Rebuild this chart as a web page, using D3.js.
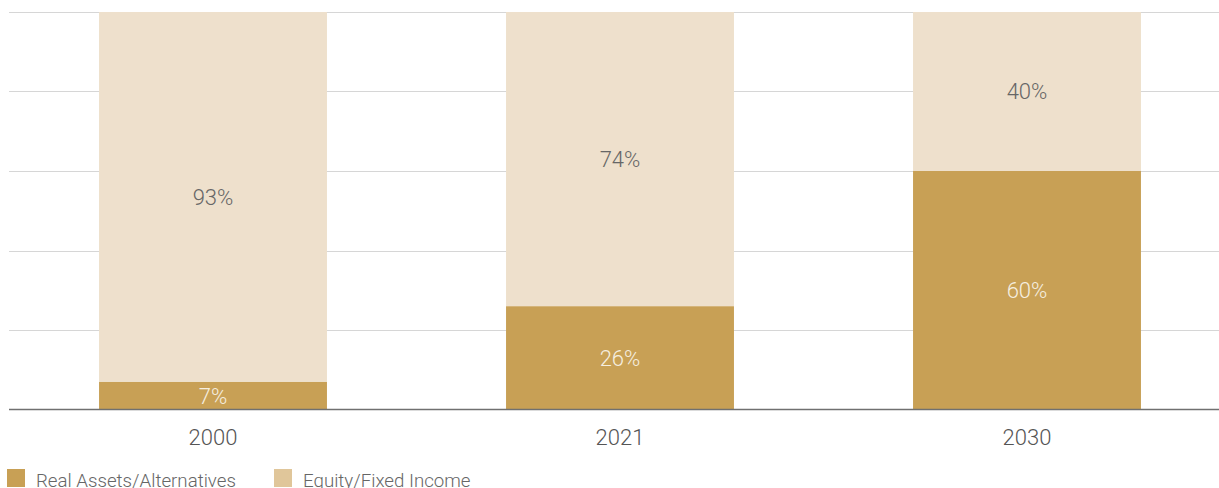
<!DOCTYPE html>
<html>
<head>
<meta charset="utf-8">
<script src="https://cdn.jsdelivr.net/npm/d3@7"></script>
<style>
  html, body { margin: 0; padding: 0; background: #fff; }
  svg { display: block; font-family: Roboto, "Noto Sans", sans-serif; }
</style>
</head>
<body>
<svg id="chart" width="1219" height="488"></svg>
<script>
// Share of portfolio by asset class
const years = ["2000", "2021", "2030"];
const realAssets = [7, 26, 60];
const equityFixed = [93, 74, 40];
const seriesNames = ["Real Assets/Alternatives", "Equity/Fixed Income"];
const yTicks = [0, 20, 40, 60, 80, 100];

const svg = d3.select("#chart");

const plot = { left: 9, right: 1219, top: 12, bottom: 409.5 };

const x = d3.scaleBand()
  .domain(years)
  .range([9.5, 1230.5])
  .paddingInner(0.44)
  .paddingOuter(0.22);

const y = d3.scaleLinear()
  .domain([0, 100])
  .range([plot.bottom, plot.top]);

const darkColor = "#c8a055";
const lightColor = "#eee0cc";
const legendLight = "#e0c69a";

// horizontal gridlines
svg.append("g")
  .selectAll("line")
  .data(yTicks.filter(d => d > 0))
  .join("line")
  .attr("x1", plot.left)
  .attr("x2", plot.right)
  .attr("y1", d => Math.round(y(d)) + 0.5)
  .attr("y2", d => Math.round(y(d)) + 0.5)
  .attr("stroke", "#d6d6d6")
  .attr("stroke-width", 1.2);

const rows = years.map((yr, i) => ({ year: yr, real: realAssets[i], equity: equityFixed[i] }));
const stack = d3.stack().keys(["real", "equity"])(rows);
const colors = { real: darkColor, equity: lightColor };

const layers = svg.append("g")
  .selectAll("g")
  .data(stack)
  .join("g")
  .attr("fill", d => colors[d.key]);

layers.selectAll("rect")
  .data(d => d)
  .join("rect")
  .attr("x", d => x(d.data.year))
  .attr("width", x.bandwidth())
  .attr("y", d => y(d[1]))
  .attr("height", d => y(d[0]) - y(d[1]));

// value labels, centred in each segment
stack.forEach(layer => {
  svg.append("g")
    .selectAll("text")
    .data(layer)
    .join("text")
    .attr("x", d => x(d.data.year) + x.bandwidth() / 2)
    .attr("y", d => (y(d[0]) + y(d[1])) / 2)
    .attr("dy", "0.36em")
    .attr("text-anchor", "middle")
    .attr("font-size", 22)
    .attr("font-weight", 300)
    .attr("fill", layer.key === "real" ? "#f6efe0" : "#666")
    .text(d => (d[1] - d[0]) + "%");
});

// x axis
const xAxis = svg.append("g")
  .attr("transform", `translate(0,${plot.bottom})`)
  .call(d3.axisBottom(x).tickSize(0).tickPadding(0));
xAxis.select(".domain").remove();
xAxis.append("line")
  .attr("x1", plot.left).attr("x2", plot.right)
  .attr("y1", 0).attr("y2", 0)
  .attr("stroke", "#707070").attr("stroke-width", 1.5);
xAxis.selectAll(".tick text")
  .attr("font-family", "Roboto, sans-serif")
  .attr("font-size", 22)
  .attr("font-weight", 300)
  .attr("fill", "#555")
  .attr("y", 35)
  .attr("dy", 0);

// legend
const legend = svg.append("g").attr("transform", "translate(7,469)");
const legendItems = [
  { name: seriesNames[0], color: darkColor, x: 0 },
  { name: seriesNames[1], color: legendLight, x: 267 }
];
const li = legend.selectAll("g")
  .data(legendItems)
  .join("g")
  .attr("transform", d => `translate(${d.x},0)`);
li.append("rect")
  .attr("width", 18).attr("height", 18)
  .attr("fill", d => d.color);
li.append("text")
  .attr("x", 29)
  .attr("y", 11)
  .attr("dy", "0.35em")
  .attr("font-size", 18.7)
  .attr("font-weight", 300)
  .attr("fill", "#666")
  .text(d => d.name);
</script>
</body>
</html>
